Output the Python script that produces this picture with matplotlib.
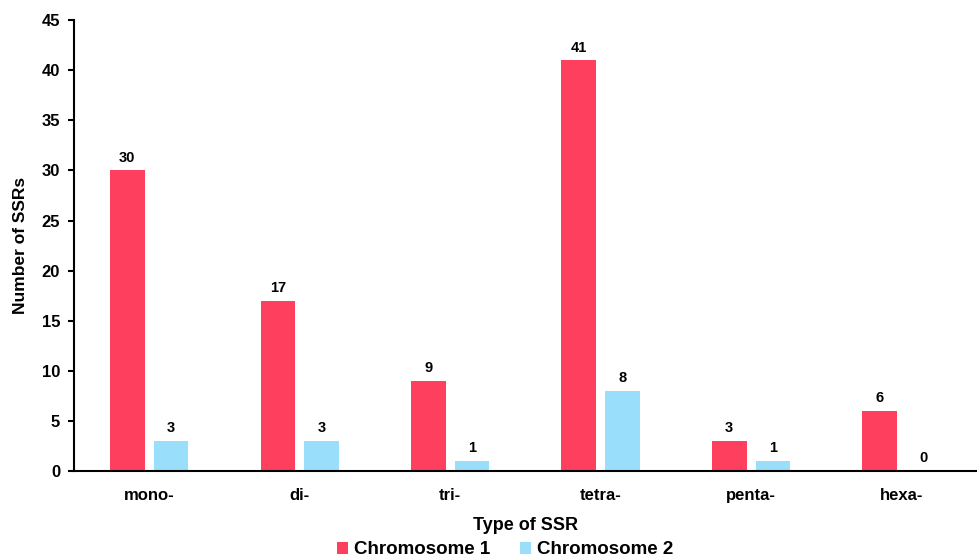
import matplotlib.pyplot as plt
import numpy as np

plt.rcParams['font.family'] = ['Liberation Sans', 'DejaVu Sans']
plt.rcParams['font.weight'] = 'bold'

categories = ["mono-", "di-", "tri-", "tetra-", "penta-", "hexa-"]
chrom1 = [30, 17, 9, 41, 3, 6]
chrom2 = [3, 3, 1, 8, 1, 0]

red = "#FF3F5E"
blue = "#99DFFC"

fig = plt.figure(figsize=(9.77, 5.6), dpi=100)
ax = fig.add_axes([0.0757, 0.159, 0.924, 0.805])

x = np.arange(len(categories))
width = 0.23
off = 0.145
r1 = ax.bar(x - off, chrom1, width, color=red, label="Chromosome 1")
r2 = ax.bar(x + off, chrom2, width, color=blue, label="Chromosome 2")

for rects in (r1, r2):
    for rect in rects:
        h = rect.get_height()
        ax.annotate('{0:d}'.format(int(h)),
                    xy=(rect.get_x() + rect.get_width() / 2, h),
                    xytext=(0, 4), textcoords="offset points",
                    ha='center', va='bottom', fontsize=10.5, fontweight='bold')

ax.set_xlim(-0.5, len(categories) - 0.5)
ax.set_ylim(0, 45)
ax.set_yticks(np.arange(0, 46, 5))
ax.set_xticks(x)
ax.set_xticklabels(categories)
ax.tick_params(axis='x', length=0, pad=12, labelsize=12)
ax.tick_params(axis='y', length=4, width=1.5, labelsize=12, pad=6)

for s in ("top", "right"):
    ax.spines[s].set_visible(False)
for s in ("left", "bottom"):
    ax.spines[s].set_linewidth(1.5)

ax.set_ylabel("Number of SSRs", fontsize=12.5, fontweight='bold', labelpad=10)
ax.set_xlabel("Type of SSR", fontsize=13, fontweight='bold', labelpad=10)

fig.legend(handles=[r1, r2], loc="center", bbox_to_anchor=(0.517, 0.018), ncol=2,
           frameon=False, fontsize=13.5, handlelength=0.6, handleheight=0.6,
           handletextpad=0.3, columnspacing=1.6, borderpad=0)

fig.savefig("out.png", dpi=100)
